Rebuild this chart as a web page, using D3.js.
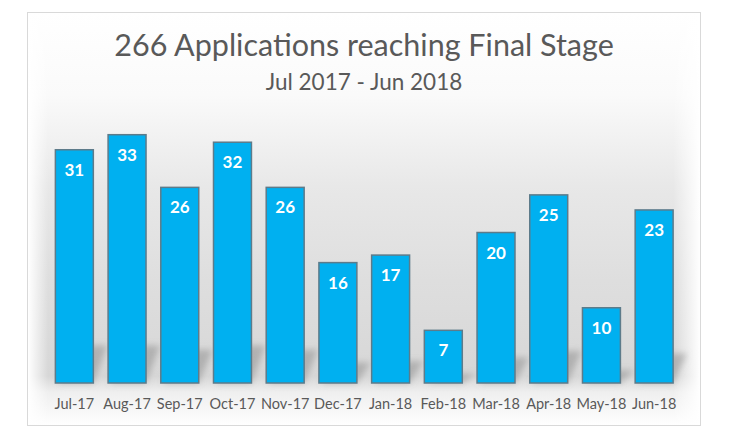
<!DOCTYPE html>
<html><head><meta charset="utf-8">
<script src="https://cdn.jsdelivr.net/npm/d3@7"></script>
<style>body{margin:0;background:#fff}svg{display:block}</style>
</head><body>
<svg id="c" width="750" height="444"></svg>
<script>
const categories = ["Jul-17","Aug-17","Sep-17","Oct-17","Nov-17","Dec-17","Jan-18","Feb-18","Mar-18","Apr-18","May-18","Jun-18"];
const values = [31,33,26,32,26,16,17,7,20,25,10,23];
const titleText = "266 Applications reaching Final Stage";
const subtitleText = "Jul 2017 - Jun 2018";

const svg = d3.select("#c");
const font = "Lato, 'Open Sans', sans-serif";
const defs = svg.append("defs");
const g1 = defs.append("linearGradient").attr("id","bg").attr("x1",0).attr("y1",0).attr("x2",0).attr("y2",1);
[[0,"#ffffff"],[0.2,"#fafafa"],[0.42,"#e8e8e8"],[0.65,"#dedede"],[0.88,"#d7d7d7"],[0.92,"#efefef"],[1,"#ffffff"]]
  .forEach(([o,c])=>g1.append("stop").attr("offset",o).attr("stop-color",c));
const gh = defs.append("linearGradient").attr("id","fadeH").attr("x1",0).attr("y1",0).attr("x2",1).attr("y2",0);
[[0,"#fff",1],[0.03,"#fff",0],[0.96,"#fff",0],[1,"#fff",1]]
  .forEach(([o,c,op])=>gh.append("stop").attr("offset",o).attr("stop-color",c).attr("stop-opacity",op));
defs.append("filter").attr("id","blur").attr("x","-50%").attr("y","-50%").attr("width","200%").attr("height","200%")
  .append("feGaussianBlur").attr("stdDeviation",3);

svg.append("rect").attr("x",27.5).attr("y",12.5).attr("width",673).attr("height",413)
  .attr("fill","url(#bg)").attr("stroke","#d9d9d9").attr("stroke-width",1);
svg.append("rect").attr("x",28).attr("y",13).attr("width",672).attr("height",412).attr("fill","url(#fadeH)");

const x = d3.scaleBand().domain(categories).range([48, 680.5]).paddingInner(0.28).paddingOuter(0.14);
const y = d3.scaleLinear().domain([0,33]).range([383,134.7]);

svg.append("g").attr("filter","url(#blur)").selectAll("path").data(values).join("path")
  .attr("d",(d,i)=>{
    const x0=x(categories[i]), w=x.bandwidth(), b=y(0), h=Math.min(b-y(d),220)*0.17;
    return `M${x0+2},${b} L${x0+w},${b} L${x0+w+14},${b-h} L${x0+16},${b-h} Z`;
  })
  .attr("fill","#8a8a8a").attr("opacity",0.5);

svg.append("g").selectAll("rect").data(values).join("rect")
  .attr("x",(d,i)=>x(categories[i])).attr("width",x.bandwidth())
  .attr("y",d=>y(d)).attr("height",d=>y(0)-y(d))
  .attr("fill","#00b0f0").attr("stroke","#5d7b8a").attr("stroke-width",1.5);

svg.append("g").selectAll("text").data(values).join("text")
  .attr("x",(d,i)=>x(categories[i])+x.bandwidth()/2).attr("y",d=>y(d)+26)
  .attr("text-anchor","middle").attr("fill","#fff").attr("font-weight","bold")
  .attr("font-family",font).attr("font-size",17).text(d=>d);

const ax = svg.append("g").attr("transform","translate(0,383)")
  .call(d3.axisBottom(x).tickSize(0).tickPadding(16));
ax.select(".domain").remove();
ax.selectAll("text").attr("font-family",font).attr("font-size",14.5).attr("fill","#595959");

svg.append("text").attr("x",364).attr("y",56).attr("text-anchor","middle")
  .attr("font-family",font).attr("font-size",30.5).attr("fill","#595959").text(titleText);
svg.append("text").attr("x",364).attr("y",90).attr("text-anchor","middle")
  .attr("font-family",font).attr("font-size",22.5).attr("fill","#595959").text(subtitleText);
</script>
</body></html>
